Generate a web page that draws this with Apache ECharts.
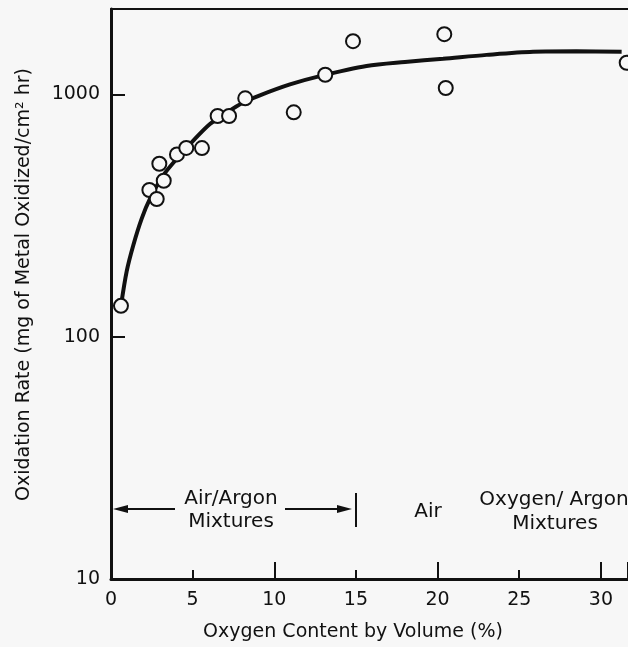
<!DOCTYPE html>
<html>
<head>
<meta charset="utf-8">
<script src="https://cdn.jsdelivr.net/npm/echarts@6/dist/echarts.min.js"></script>
<style>
html,body{margin:0;padding:0;background:#f7f7f7;}
#c{width:628px;height:647px;}
</style>
</head>
<body>
<div id="c"></div>
<script>
// Measured points: oxygen content (%) and oxidation rate
var pointX = [0.61, 2.35, 2.80, 2.96, 3.23, 4.04, 4.61, 5.57, 6.53, 7.23, 8.22, 11.19, 13.12, 14.82, 20.41, 20.50, 31.58];
var pointY = [134, 403, 370, 517, 440, 565, 601, 600, 814, 814, 963, 843, 1205, 1657, 1771, 1062, 1350];
// Fitted curve
var curveX = [0.61, 0.96, 1.37, 1.88, 2.39, 3.20, 4.02, 5.04, 6.06, 7.09, 8.10, 9.12, 10.96, 12.79, 15.65, 18.0, 20.34, 23.0, 25.85, 28.5, 31.27];
var curveY = [134, 186, 239, 307, 371, 463, 541, 644, 754, 841, 925, 991, 1099, 1189, 1309, 1360, 1402, 1455, 1499, 1505, 1499];
var xTicks = [0, 5, 10, 15, 20, 25, 30];
var yTicks = [10, 100, 1000];

var ink = '#111';
var bg = '#f7f7f7';
var font = 'DejaVu Sans';

function zip(a, b) { return a.map(function (v, i) { return [v, b[i]]; }); }

var txt = function (x, y, s) {
  return { type: 'text', x: x, y: y, style: { text: s, fill: ink, fontFamily: font, fontSize: 20, align: 'center', verticalAlign: 'middle' }, z: 10 };
};

var chart = echarts.init(document.getElementById('c'));
chart.setOption({
  backgroundColor: bg,
  animation: false,
  grid: { left: 111, right: 0, top: 9, bottom: 64 },
  xAxis: [{
    type: 'value', position: 'bottom', min: 0, max: 31.66, interval: 5,
    name: 'Oxygen Content by Volume (%)', nameLocation: 'middle', nameGap: 44,
    nameTextStyle: { color: ink, fontFamily: font, fontSize: 19, padding: [0, 33, 0, 0] },
    axisLine: { show: true, lineStyle: { color: ink, width: 3 } },
    axisTick: { show: true, inside: true, length: 9, lineStyle: { color: ink, width: 2 } },
    axisLabel: { color: ink, fontFamily: font, fontSize: 19, margin: 12, showMaxLabel: false,
      formatter: function (v) { return xTicks.indexOf(v) >= 0 ? String(v) : ''; } },
    splitLine: { show: false }
  }, {
    type: 'value', position: 'bottom', min: 0, max: 31.66, interval: 10,
    axisLine: { show: false },
    axisTick: { show: true, inside: true, length: 17, lineStyle: { color: ink, width: 2 } },
    axisLabel: { show: false }, splitLine: { show: false }
  }, {
    type: 'value', position: 'top', min: 0, max: 31.66,
    axisLine: { show: true, lineStyle: { color: ink, width: 2 } },
    axisTick: { show: false }, axisLabel: { show: false }, splitLine: { show: false }
  }],
  yAxis: [{
    type: 'log', logBase: 10, min: 10, max: 2250,
    name: 'Oxidation Rate (mg of Metal Oxidized/cm\u00b2 hr)', nameLocation: 'middle', nameGap: 77,
    nameTextStyle: { color: ink, fontFamily: font, fontSize: 19, padding: [0, 0, 0, 19] },
    axisLine: { show: true, lineStyle: { color: ink, width: 3 } },
    axisTick: { show: true, inside: true, length: 14, lineStyle: { color: ink, width: 2 } },
    axisLabel: { color: ink, fontFamily: font, fontSize: 19, margin: 11, showMaxLabel: false,
      formatter: function (v) { return yTicks.indexOf(Math.round(v)) >= 0 ? String(Math.round(v)) : ''; } },
    splitLine: { show: false }
  }],
  series: [{
    type: 'line', xAxisIndex: 0, data: zip(curveX, curveY), smooth: 0.3,
    showSymbol: false, symbol: 'none', lineStyle: { color: ink, width: 4 }, z: 2
  }, {
    type: 'scatter', xAxisIndex: 0, data: zip(pointX, pointY), symbol: 'circle', symbolSize: 14,
    clip: false,
    itemStyle: { color: bg, borderColor: ink, borderWidth: 2, opacity: 1 }, z: 3
  }],
  graphic: [
    txt(231, 499, 'Air/Argon'),
    txt(231, 522, 'Mixtures'),
    txt(428, 512, 'Air'),
    txt(554, 500, 'Oxygen/ Argon'),
    txt(555, 524, 'Mixtures'),
    { type: 'line', shape: { x1: 126, y1: 509, x2: 175, y2: 509 }, style: { stroke: ink, lineWidth: 2 } },
    { type: 'polygon', shape: { points: [[113, 509], [128, 505], [128, 513]] }, style: { fill: ink } },
    { type: 'line', shape: { x1: 285, y1: 509, x2: 339, y2: 509 }, style: { stroke: ink, lineWidth: 2 } },
    { type: 'polygon', shape: { points: [[352, 509], [337, 505], [337, 513]] }, style: { fill: ink } },
    { type: 'line', shape: { x1: 356, y1: 493, x2: 356, y2: 527 }, style: { stroke: ink, lineWidth: 2 } }
  ]
});
</script>
</body>
</html>
